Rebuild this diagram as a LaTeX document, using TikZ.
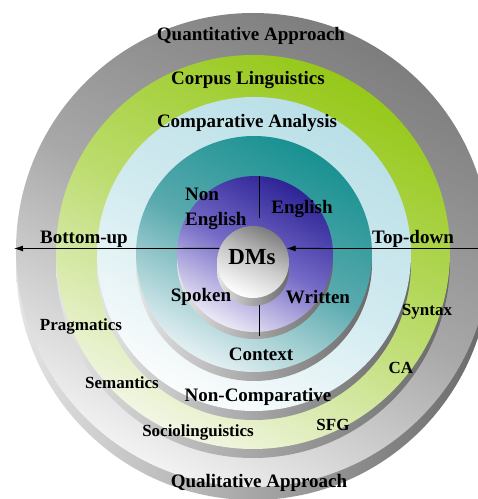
\documentclass[tikz,border=0pt]{standalone}
\usepackage{fontspec}
\setmainfont{Liberation Serif}
\usetikzlibrary{arrows.meta}
\definecolor{rimdark}{RGB}{125,125,125}
\definecolor{rimmid}{RGB}{168,168,168}
\definecolor{rimlight}{RGB}{242,242,242}
\definecolor{limedark}{RGB}{150,200,25}
\definecolor{limemid}{RGB}{188,220,110}
\definecolor{limelight}{RGB}{242,246,228}
\definecolor{icedark}{RGB}{186,223,231}
\definecolor{icemid}{RGB}{210,235,240}
\definecolor{icelight}{RGB}{250,252,252}
\definecolor{tealdark}{RGB}{25,145,145}
\definecolor{tealmid}{RGB}{90,170,174}
\definecolor{teallight}{RGB}{228,240,243}
\definecolor{indigodark}{RGB}{45,35,150}
\definecolor{indigomid}{RGB}{115,105,198}
\definecolor{indigolight}{RGB}{236,233,246}
\definecolor{sidedark}{RGB}{105,105,105}
\definecolor{sidelight}{RGB}{228,228,228}

\begin{document}
\begin{tikzpicture}[x=1pt,y=1pt,
  face/.style n args={3}{top color=#1,bottom color=#3,middle color=#2,shading angle=-28},
  rimside/.style={left color=sidelight,right color=sidedark},
  dmsdisc/.style={circle,minimum size=72pt,inner sep=0pt,top color=rimdark,bottom color=white,middle color=rimmid!60!white,shading angle=-25},
  lblbig/.style={font=\fontsize{19}{25}\selectfont\bfseries,inner sep=0pt,align=left},
  lblsmall/.style={font=\fontsize{17}{20}\selectfont\bfseries,inner sep=0pt},
  arr/.style={line width=0.9pt,-{Latex[length=9pt,width=6pt]}}]
\useasboundingbox (0,0) rectangle (478,499);
\clip (0,0) rectangle (478,499);
\fill[white] (0,0) rectangle (478,499);
\shade[rimside] (253,236) circle[radius=237];
\shade[face={rimdark}{rimmid}{rimlight}] (253,249) circle[radius=237];
\shade[rimside] (253,238) circle[radius=197];
\shade[face={limedark}{limemid}{limelight}] (253,247) circle[radius=197];
\shade[rimside] (254,236) circle[radius=157];
\shade[face={icedark}{icemid}{icelight}] (254,245) circle[radius=157];
\shade[rimside] (254,236) circle[radius=118];
\shade[face={tealdark}{tealmid}{teallight}] (254,245) circle[radius=118];
\shade[rimside] (255,238) circle[radius=78];
\shade[face={indigodark}{indigomid}{indigolight}] (255,245) circle[radius=78];
\shade[rimside] (253,229) circle[radius=36];
\node[dmsdisc] (dms) at (253,237) {};
\coordinate (vtop) at (259,323);
\coordinate (vmid1) at (259,281);
\coordinate (vmid2) at (259,194);
\coordinate (vbot) at (259,163);
\coordinate (bu) at (14,250.5);
\coordinate (td) at (478,250.5);
\draw[line width=0.8pt] (vtop) -- (vmid1);
\draw[line width=0.8pt] (vmid2) -- (vbot);
\draw[arr] (dms.158) -- (bu);
\draw[arr] (td) -- (dms.22);
\node[lblbig] (quant) at (251,463) {Quantitative Approach};
\node[lblbig] (corpus) at (248,419) {Corpus Linguistics};
\node[lblbig] (compar) at (247,376) {Comparative Analysis};
\node[lblbig,anchor=west] (noneng) at (185,290) {Non\\English};
\node[lblbig] (eng) at (302,290) {English};
\node[lblbig] (bottomup) at (84,260) {Bottom-up};
\node[lblbig] (topdown) at (413,260) {Top-down};
\node[font=\fontsize{23}{26}\selectfont\bfseries,inner sep=0pt] (dmstext) at (252,242) {DMs};
\node[lblbig] (spoken) at (201,202) {Spoken};
\node[lblbig] (written) at (318,202) {Written};
\node[lblsmall] (syntax) at (427,187) {Syntax};
\node[lblsmall] (prag) at (81,173) {Pragmatics};
\node[lblbig] (context) at (261,145) {Context};
\node[lblsmall] (ca) at (401,131) {CA};
\node[lblsmall] (seman) at (122,116) {Semantics};
\node[lblbig] (noncomp) at (258,102) {Non-Comparative};
\node[lblsmall] (sfg) at (333,74) {SFG};
\node[lblsmall] (socio) at (198,67) {Sociolinguistics};
\node[lblbig] (qual) at (259,16) {Qualitative Approach};
\end{tikzpicture}
\end{document}
